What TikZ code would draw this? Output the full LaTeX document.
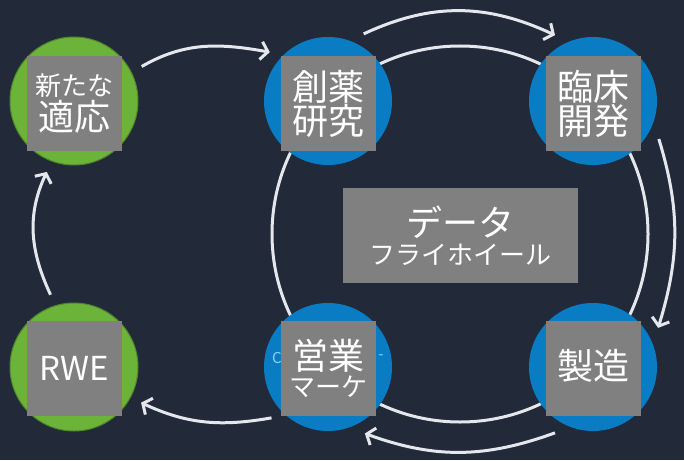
\documentclass[tikz,border=0pt]{standalone}
\usepackage{fontspec}
\setmainfont{Noto Sans CJK JP}
\usetikzlibrary{arrows.meta}
\definecolor{bg}{HTML}{222A39}
\definecolor{leaf}{HTML}{6CB33A}
\definecolor{sea}{HTML}{0A7CC3}
\definecolor{cap}{HTML}{808080}
\definecolor{ring}{HTML}{E4E7EC}
\definecolor{faint}{HTML}{8FD3F2}
\newcommand{\bigj}{\fontsize{36}{38}\selectfont}
\newcommand{\smallj}{\fontsize{26}{30}\selectfont}
\tikzset{
  green dot/.style={circle,fill=leaf,draw=leaf!75!black,line width=1pt,minimum size=128pt,inner sep=0pt,outer sep=12pt},
  blue dot/.style={circle,fill=sea,minimum size=128pt,inner sep=0pt,outer sep=12pt},
  tag/.style={fill=cap,text=white,minimum width=95pt,minimum height=95pt,inner sep=0pt,align=center},
  flow/.style={draw=ring,line width=3pt,-{Straight Barb[length=7pt,width=18pt]}},
}
\begin{document}
\begin{tikzpicture}[x=1pt,y=-1pt]
        \fill[bg] (0,0) rectangle (684,460);
        \useasboundingbox (0,0) rectangle (684,460);

        % flywheel
        \node[circle,draw=ring,line width=3pt,minimum size=376pt,inner sep=0pt] (wheel) at (460,234) {};

        \node[green dot] (adapt) at (74,101) {};
        \node[blue dot] (drug) at (328,101) {};
        \node[blue dot] (clin) at (593,101) {};
        \node[blue dot] (mfg) at (593,367) {};
        \node[blue dot] (mkt) at (328,367) {};
        \node[green dot] (rwe) at (74,367) {};
        \node[text=faint,font=\fontsize{15}{15}\selectfont] (mktc) at (277,358) {C};
        \node[text=faint,font=\fontsize{15}{15}\selectfont] (mktd) at (381,357) {-};

        \node[tag] (adapt-t) at (74.5,103.5) {\smallj 新たな\\[1pt] \bigj 適応};
        \node[tag] (drug-t) at (328.5,103.5) {\bigj 創薬\\ \bigj 研究};
        \node[tag] (clin-t) at (593.5,103.5) {\bigj 臨床\\ \bigj 開発};
        \node[tag] (mfg-t) at (593.5,368.5) {\bigj 製造\\[-4pt]};
        \node[tag] (mkt-t) at (328.5,368.5) {\bigj 営業\\[2pt] \smallj マーケ};
        \node[tag,font=\fontsize{33}{33}\selectfont] (rwe-t) at (74.5,368.5) {RWE};
        \node[tag,minimum width=235pt] (hub) at (460.5,235.5) {\bigj データ\\[4pt] \smallj フライホイール};

        \draw[flow] (adapt.27) to[out=30,in=170] (drug.140);
        \draw[flow] (drug.62) to[out=25,in=155] (clin.120);
        \draw[flow] (clin.-30) to[out=-73,in=73] (mfg.31);
        \draw[flow] (mfg.-120) to[out=200,in=-20] (mkt.-61);
        \draw[flow] (mkt.222) to[out=190,in=-25] (rwe.-28);
        \draw[flow] (rwe.108) to[out=115,in=-115] (adapt.-111);

    \end{tikzpicture}
\end{document}
